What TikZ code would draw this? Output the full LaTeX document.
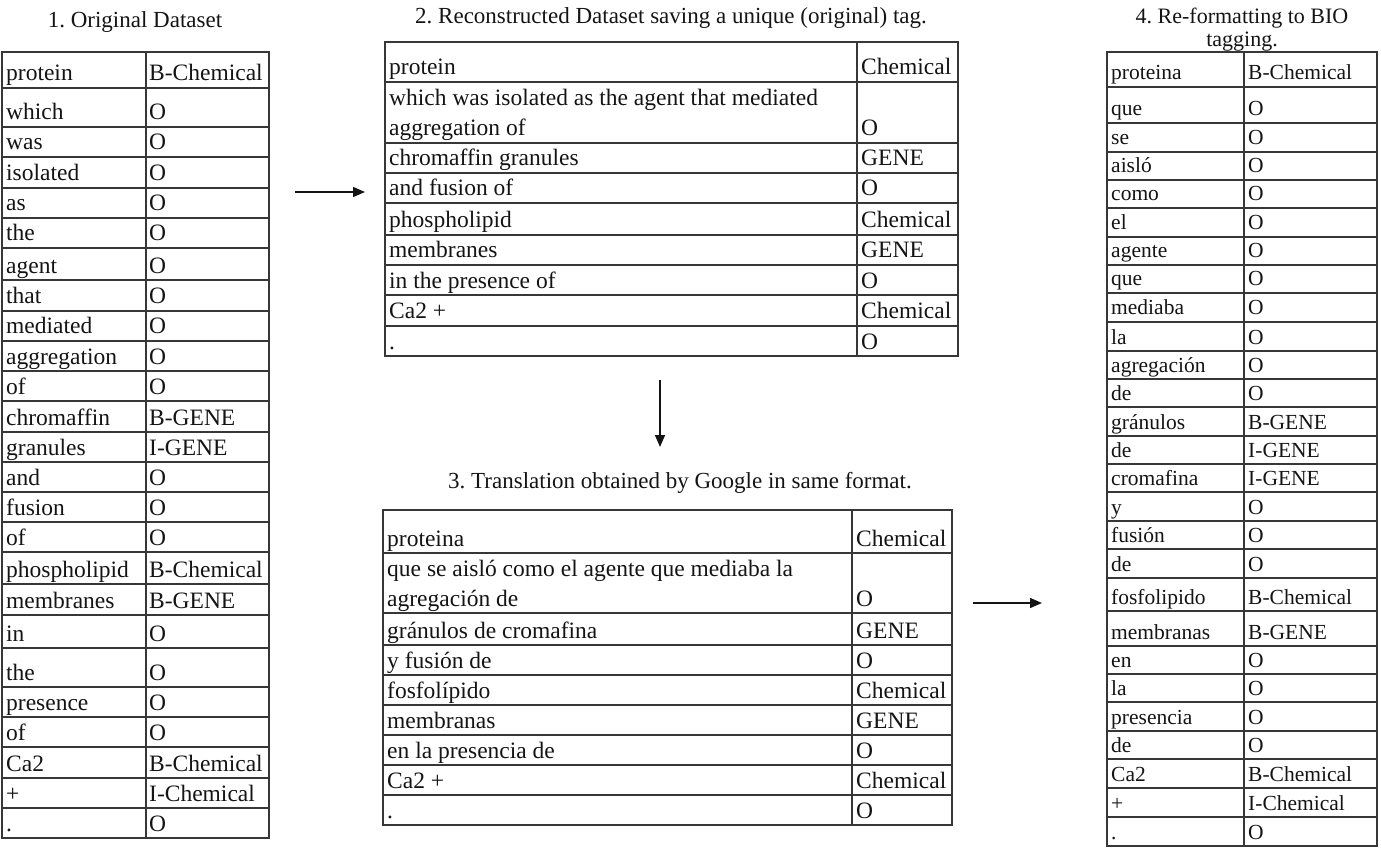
\documentclass[tikz,border=0pt]{standalone}
\usepackage{fontspec}
\setmainfont{Liberation Serif}
\usetikzlibrary{arrows.meta, positioning}
\definecolor{gridgrey}{RGB}{55, 55, 55}
\definecolor{inkblack}{RGB}{20, 20, 20}
\newcommand{\tablefont}{\fontsize{23.5}{30}\selectfont}
\newcommand{\biofont}{\fontsize{21.5}{28}\selectfont}
\newcommand{\headfont}{\fontsize{23}{23}\selectfont}
\frenchspacing

\begin{document}
\begin{tikzpicture}[
  x=1pt, y=-1pt,
  cellline/.style={draw=gridgrey, line width=1.6pt},
  celltext/.style={anchor=base west, inner sep=0pt, text=inkblack, align=left, font=\tablefont},
  biotext/.style={celltext, font=\biofont},
  titletext/.style={anchor=base, inner sep=0pt, text=inkblack, align=center, font=\headfont},
  flow/.style={-{Triangle[length=12pt, width=10pt]}, line width=1.4pt, draw=inkblack}
]
  \useasboundingbox (0,0) rectangle (1381,850);

  % 1. Original dataset
  \node[titletext] (title-orig) at (135,28) {1. Original Dataset};
  \foreach \ya/\yb/\word/\tag [count=\i] in {
    52/88/protein/B-Chemical, 88/127/which/O, 127/157/was/O, 157/188/isolated/O,
    188/218/as/O, 218/248/the/O, 248/280/agent/O, 280/311/that/O,
    311/341/mediated/O, 341/371/aggregation/O, 371/401/of/O, 401/432/chromaffin/B-GENE,
    432/462/granules/I-GENE, 462/492/and/O, 492/522/fusion/O, 522/552/of/O,
    552/584/phospholipid/B-Chemical, 584/615/membranes/B-GENE, 615/648/in/O, 648/687/the/O,
    687/717/presence/O, 717/747/of/O, 747/778/Ca2/B-Chemical, 778/808/+/I-Chemical,
    808/838/./O}{
    \draw[cellline] (2,\ya) rectangle (146,\yb);
    \draw[cellline] (146,\ya) rectangle (269,\yb);
    \node[celltext] (orig-w\i) at (6,\yb-7) {\word};
    \node[celltext] (orig-t\i) at (149,\yb-7) {\tag};
  }

  % 2. Reconstructed dataset
  \node[titletext] (title-recon) at (671,24) {2. Reconstructed Dataset saving a unique (original) tag.};
  \foreach \ya/\yb/\word/\tag [count=\i] in {
    42/82/protein/Chemical,
    82/143/{which was isolated as the agent that mediated\\aggregation of}/O,
    143/173/chromaffin granules/GENE, 173/203/and fusion of/O,
    203/235/phospholipid/Chemical, 235/265/membranes/GENE,
    265/295/in the presence of/O, 295/326/Ca2 +/Chemical, 326/356/./O}{
    \draw[cellline] (385,\ya) rectangle (857,\yb);
    \draw[cellline] (857,\ya) rectangle (958,\yb);
    \node[celltext] (recon-w\i) at (389,\yb-7) {\word};
    \node[celltext] (recon-t\i) at (861,\yb-7) {\tag};
  }

  % 3. Translation
  \node[titletext] (title-trans) at (680,488) {3. Translation obtained by Google in same format.};
  \foreach \ya/\yb/\word/\tag [count=\i] in {
    510/553/proteina/Chemical,
    553/613/{que se aisló como el agente que mediaba la\\agregación de}/O,
    613/645/gránulos de cromafina/GENE, 645/675/y fusión de/O,
    675/705/fosfolípido/Chemical, 705/735/membranas/GENE,
    735/765/en la presencia de/O, 765/795/Ca2 +/Chemical, 795/825/./O}{
    \draw[cellline] (383,\ya) rectangle (852,\yb);
    \draw[cellline] (852,\ya) rectangle (952,\yb);
    \node[celltext] (trans-w\i) at (387,\yb-7) {\word};
    \node[celltext] (trans-t\i) at (856,\yb-7) {\tag};
  }

  % 4. BIO tagging
  \node[titletext, anchor=north, font=\fontsize{22}{23}\selectfont] (title-bio) at (1242,8) {4. Re-formatting to BIO\\tagging.};
  \foreach \ya/\yb/\word/\tag [count=\i] in {
    52/87/proteina/B-Chemical, 87/123/que/O, 123/152/se/O, 152/180/aisló/O,
    180/208/como/O, 208/237/el/O, 237/265/agente/O, 265/293/que/O,
    293/322/mediaba/O, 322/351/la/O, 351/379/agregación/O, 379/407/de/O,
    407/436/gránulos/B-GENE, 436/464/de/I-GENE, 464/492/cromafina/I-GENE, 492/521/y/O,
    521/549/fusión/O, 549/578/de/O, 578/611/fosfolipido/B-Chemical, 611/646/membranas/B-GENE,
    646/674/en/O, 674/702/la/O, 702/731/presencia/O, 731/759/de/O,
    759/788/Ca2/B-Chemical, 788/817/+/I-Chemical, 817/846/./O}{
    \draw[cellline] (1107,\ya) rectangle (1244,\yb);
    \draw[cellline] (1244,\ya) rectangle (1377,\yb);
    \node[biotext] (bio-w\i) at (1111,\yb-7) {\word};
    \node[biotext] (bio-t\i) at (1248,\yb-7) {\tag};
  }

  % Arrows
  \coordinate (step1-out) at (295,192);
  \coordinate (step2-in) at (365,192);
  \coordinate (step2-out) at (660,380);
  \coordinate (step3-in) at (660,447);
  \coordinate (step3-out) at (973,603);
  \coordinate (step4-in) at (1042,603);
  \draw[flow] (step1-out) -- (step2-in);
  \draw[flow] (step2-out) -- (step3-in);
  \draw[flow] (step3-out) -- (step4-in);
\end{tikzpicture}
\end{document}
